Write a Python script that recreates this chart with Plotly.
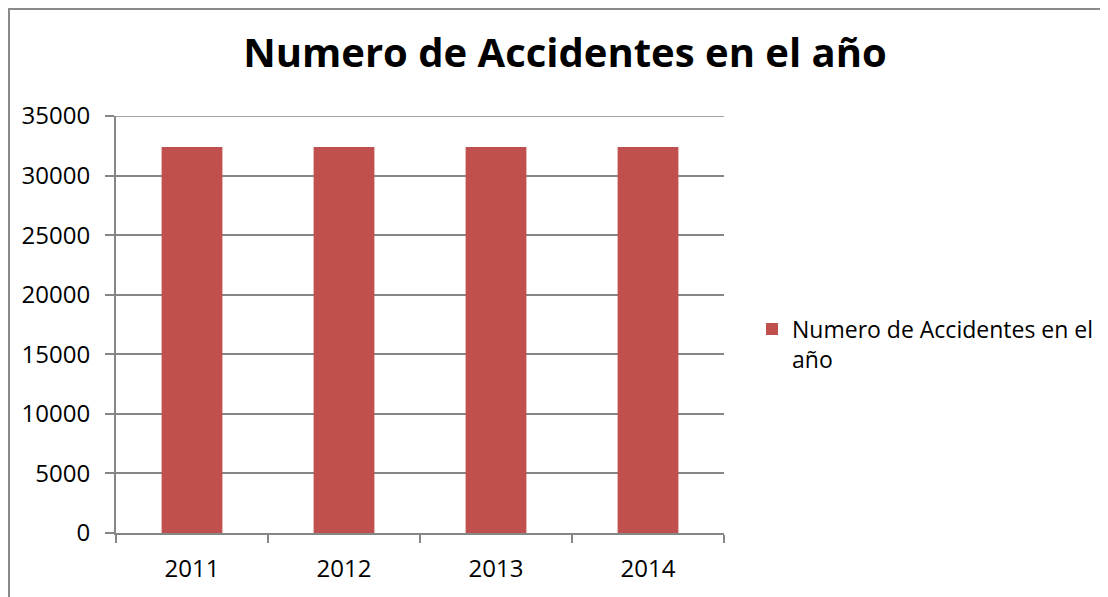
import plotly.graph_objects as go

years = ["2011", "2012", "2013", "2014"]
accidents = [32400, 32400, 32400, 32400]
series_name = "Numero de Accidentes en el<br>año"
title_text = "Numero de Accidentes en el año"

# page has 8px body margin, so figure is 8px smaller and coords are page-8
W, H = 1100, 589
L, R, T, B = 108, 1100 - 716, 108, 589 - 525
PW, PH = W - L - R, H - T - B

grid = "#868686"
font = "'Open Sans', Lato, sans-serif"

fig = go.Figure()
fig.add_trace(go.Bar(
    x=years, y=accidents, name=series_name,
    marker=dict(color="#C0504D", line=dict(width=0)),
    showlegend=True,
))

fig.update_layout(
    width=W, height=H,
    margin=dict(l=L, r=R, t=T, b=B, autoexpand=False),
    paper_bgcolor="white", plot_bgcolor="white",
    bargap=0.6,
    title=dict(text="<b>" + title_text + "</b>", x=557 / W, xanchor="center",
               y=1 - 45 / H, yanchor="middle", yref="container",
               font=dict(family=font, size=40, color="black")),
    font=dict(family=font, size=23, color="black"),
    legend=dict(x=(744 - L) / PW, xanchor="left", y=(525 - 299.5) / PH,
                yanchor="top", valign="top", font=dict(size=23, family=font),
                itemwidth=30),
    xaxis=dict(showline=True, linecolor=grid, linewidth=2, ticks="outside", tickson="boundaries",
               ticklen=8, tickcolor=grid, tickwidth=2, showgrid=False,
               tickfont=dict(size=24, family=font), ticklabelstandoff=13),
    yaxis=dict(range=[0, 35000], dtick=5000, tickformat="d", showline=True, linecolor=grid, linewidth=2,
               ticks="outside", ticklen=9, tickcolor=grid, tickwidth=2,
               showgrid=True, gridcolor=grid, gridwidth=1.5, zeroline=False,
               tickfont=dict(size=24, family=font), ticklabelstandoff=10),
    shapes=[
        dict(type="line", xref="paper", yref="y", x0=0, x1=1, y0=35000, y1=35000,
             line=dict(color=grid, width=1.5), layer="below"),
        dict(type="line", xref="paper", yref="paper",
             x0=(0 - L) / PW, x1=(W + 10 - L) / PW,
             y0=(525 - 1) / PH, y1=(525 - 1) / PH,
             line=dict(color="#8a8a8a", width=2)),
        dict(type="line", xref="paper", yref="paper",
             x0=(1 - L) / PW, x1=(1 - L) / PW,
             y0=(525 - 1) / PH, y1=(525 - H - 10) / PH,
             line=dict(color="#8a8a8a", width=2)),
    ],
)

fig.write_html("out.html")
